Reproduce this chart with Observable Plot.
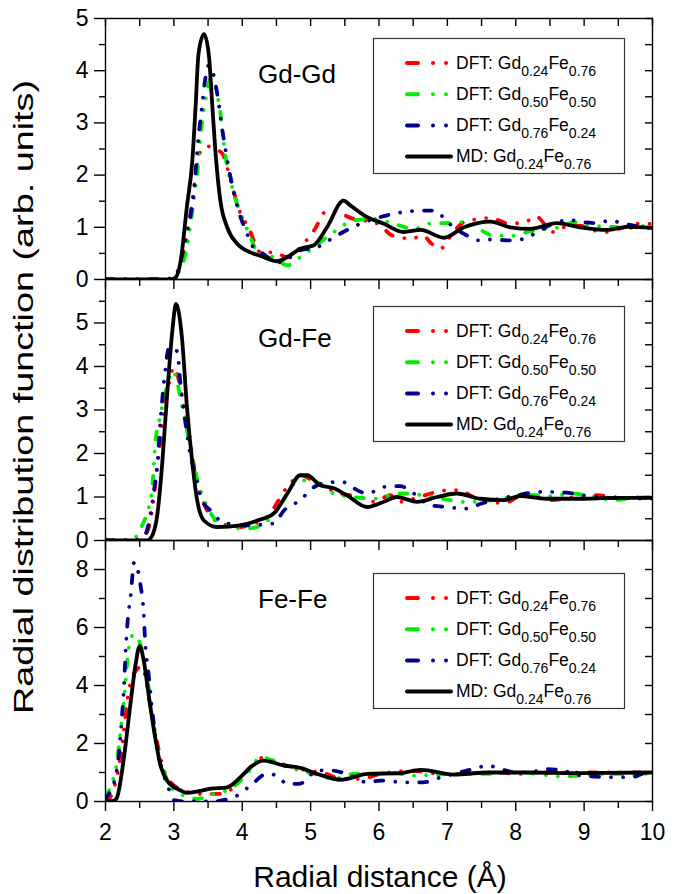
<!DOCTYPE html>
<html><head><meta charset="utf-8">
<script src="https://cdn.jsdelivr.net/npm/d3@7"></script>
<script src="https://cdn.jsdelivr.net/npm/@observablehq/plot@0.6"></script>
<style>
body{margin:0;background:#fff;}
#wrap{position:relative;width:682px;height:894px;overflow:hidden;background:#fff;font-family:"Liberation Sans",Arial,sans-serif;}
#wrap svg{position:absolute;left:0;overflow:visible;}
</style></head><body><div id="wrap"></div>
<script>
// ---------- data (x = radial distance in Å, y = g(r)) ----------
const xTicks = [2,3,4,5,6,7,8,9,10];
const xMinorTicks = [2.5,3.5,4.5,5.5,6.5,7.5,8.5,9.5];
const panelNames = ["Gd-Gd","Gd-Fe","Fe-Fe"];
const seriesNames = [["DFT: Gd","0.24","Fe","0.76"],["DFT: Gd","0.50","Fe","0.50"],["DFT: Gd","0.76","Fe","0.24"],["MD: Gd","0.24","Fe","0.76"]];

// Gd-Gd
const gdgd_dft024 = [[2.0,0],[2.8,0],[2.95,0.02],[3.10,0.3],[3.19,0.85],[3.27,1.5],[3.34,2.2],[3.41,2.5],[3.51,2.55],[3.60,2.5],[3.71,2.41],[3.83,1.9],[3.95,1.35],[4.10,0.97],[4.27,0.52],[4.46,0.52],[4.66,0.43],[4.85,0.62],[5.05,0.94],[5.24,1.32],[5.44,1.26],[5.63,1.16],[5.83,1.12],[6.02,1.04],[6.18,0.85],[6.31,0.81],[6.46,0.78],[6.65,0.84],[6.75,0.71],[6.90,0.59],[7.02,0.78],[7.24,1.10],[7.46,1.16],[7.63,1.18],[7.90,1.07],[8.14,1.10],[8.29,1.21],[8.55,0.91],[8.70,1.0],[8.94,1.03],[9.14,0.94],[9.33,0.91],[9.53,0.98],[9.87,1.08],[10.0,1.05]];
const gdgd_dft050 = [[2.0,0],[2.8,0],[2.95,0.02],[3.10,0.2],[3.19,0.62],[3.27,1.32],[3.34,2.02],[3.41,2.98],[3.47,3.5],[3.54,3.85],[3.60,3.7],[3.66,3.37],[3.75,2.41],[3.88,1.64],[4.00,1.19],[4.12,0.81],[4.27,0.45],[4.36,0.49],[4.50,0.38],[4.66,0.27],[4.85,0.43],[5.05,0.62],[5.34,0.91],[5.63,1.13],[5.92,1.16],[6.21,1.07],[6.51,0.97],[6.73,1.07],[6.95,1.08],[7.29,1.10],[7.46,0.97],[7.68,0.84],[7.99,0.84],[8.17,0.91],[8.46,0.97],[8.68,1.01],[8.85,1.10],[9.04,1.03],[9.43,1.01],[9.63,0.98],[9.92,1.03],[10.0,1.02]];
const gdgd_dft076 = [[2.0,0],[2.8,0],[2.95,0.02],[3.02,0.05],[3.10,0.36],[3.19,0.88],[3.29,1.65],[3.36,2.73],[3.41,3.3],[3.46,3.85],[3.51,4.1],[3.57,3.97],[3.63,3.59],[3.71,2.85],[3.80,2.15],[3.93,1.39],[4.07,0.88],[4.16,0.62],[4.27,0.52],[4.56,0.33],[4.85,0.56],[5.10,0.62],[5.34,0.81],[5.73,1.07],[6.12,1.23],[6.34,1.29],[6.65,1.32],[6.82,1.32],[7.00,1.10],[7.29,0.84],[7.46,0.75],[7.68,0.77],[7.87,0.75],[8.13,0.78],[8.28,0.88],[8.55,1.07],[8.79,1.14],[8.97,1.10],[9.19,1.08],[9.38,1.13],[9.50,1.10],[9.72,1.03],[10.0,0.98]];
const gdgd_md = [[2.0,0],[2.95,0],[3.02,0.03],[3.10,0.36],[3.19,1.39],[3.27,2.28],[3.32,3.37],[3.36,4.32],[3.44,4.70],[3.51,4.32],[3.56,3.37],[3.61,2.41],[3.68,1.51],[3.78,1.00],[3.93,0.68],[4.12,0.52],[4.27,0.45],[4.51,0.35],[4.66,0.43],[4.85,0.59],[5.04,0.65],[5.24,1.0],[5.48,1.51],[5.58,1.42],[5.78,1.23],[6.07,1.07],[6.36,0.91],[6.61,0.95],[6.95,0.80],[7.24,1.0],[7.63,1.11],[7.92,1.0],[8.21,0.97],[8.60,1.08],[8.94,1.0],[9.33,0.95],[9.63,1.01],[10.0,0.99]];

// Gd-Fe
const gdfe_dft024 = [[2.0,0],[2.45,0],[2.61,0.2],[2.68,0.69],[2.78,2.0],[2.86,3.0],[2.93,3.63],[3.00,3.98],[3.07,3.7],[3.15,3.0],[3.22,2.47],[3.32,1.47],[3.44,0.85],[3.58,0.5],[3.75,0.36],[3.97,0.31],[4.15,0.38],[4.36,0.54],[4.66,1.23],[4.85,1.50],[5.10,1.31],[5.44,1.08],[5.73,1.0],[5.92,0.89],[6.17,1.04],[6.31,0.89],[6.55,0.98],[6.80,1.10],[7.04,1.16],[7.14,1.16],[7.48,0.93],[7.82,0.86],[8.12,1.04],[8.51,0.93],[8.90,1.0],[9.19,1.04],[9.43,1.0],[9.72,0.98],[10.0,1.0]];
const gdfe_dft050 = [[2.0,0],[2.40,0.02],[2.51,0.27],[2.60,0.6],[2.68,1.16],[2.73,2.26],[2.80,2.85],[2.86,3.3],[2.93,3.70],[2.98,3.9],[3.04,3.7],[3.10,3.24],[3.24,2.16],[3.36,1.3],[3.49,0.77],[3.63,0.45],[4.02,0.27],[4.22,0.31],[4.51,0.69],[4.80,1.35],[5.0,1.39],[5.34,1.08],[5.63,1.0],[5.92,0.96],[6.17,1.04],[6.34,1.08],[6.65,1.04],[7.04,0.93],[7.29,0.88],[7.48,0.90],[7.77,0.95],[8.07,1.04],[8.31,1.04],[8.55,1.02],[8.82,1.08],[9.04,1.04],[9.43,0.93],[9.82,1.0],[10.0,1.0]];
const gdfe_dft076 = [[2.0,0],[2.40,0],[2.56,0.08],[2.66,0.62],[2.71,1.16],[2.76,1.78],[2.80,2.7],[2.83,3.24],[2.88,3.98],[2.92,4.4],[2.98,4.45],[3.05,4.33],[3.10,3.55],[3.17,2.70],[3.22,2.16],[3.32,1.47],[3.41,0.93],[3.56,0.66],[3.71,0.42],[4.02,0.35],[4.46,0.39],[4.61,0.69],[4.85,0.93],[5.05,1.23],[5.29,1.34],[5.48,1.34],[5.63,1.20],[5.83,1.08],[6.07,1.23],[6.31,1.25],[6.51,1.08],[6.75,0.81],[7.00,0.77],[7.26,0.73],[7.50,0.85],[8.01,1.04],[8.24,1.10],[8.43,1.12],[8.73,1.10],[8.99,1.04],[9.38,0.98],[9.68,0.98],[9.92,0.95],[10.0,0.97]];
const gdfe_md = [[2.0,0],[2.61,0],[2.68,0.1],[2.76,0.62],[2.83,1.78],[2.90,3.32],[2.98,4.86],[3.03,5.44],[3.12,4.63],[3.19,3.09],[3.27,1.78],[3.34,0.93],[3.44,0.46],[3.63,0.31],[3.97,0.35],[4.22,0.46],[4.46,0.62],[4.66,1.08],[4.85,1.50],[4.95,1.50],[5.14,1.27],[5.34,1.20],[5.53,1.04],[5.83,0.77],[6.07,0.89],[6.26,1.0],[6.56,0.89],[6.85,1.0],[7.14,1.08],[7.48,0.96],[7.82,0.93],[8.06,1.02],[8.45,0.96],[8.94,0.96],[9.43,0.98],[10.0,0.98]];

// Fe-Fe
const fefe_dft024 = [[2.0,0],[2.07,0.15],[2.22,1.52],[2.34,3.81],[2.44,4.5],[2.53,4.65],[2.66,3.24],[2.76,1.98],[2.90,0.83],[3.14,0.38],[3.39,0.26],[3.68,0.26],[3.88,0.49],[4.12,1.18],[4.31,1.52],[4.51,1.35],[4.85,1.12],[5.24,0.95],[5.44,0.78],[5.73,0.78],[6.02,0.95],[6.51,1.06],[6.90,0.95],[7.24,0.95],[7.63,1.0],[8.12,0.95],[8.45,1.0],[8.94,1.0],[9.43,1.0],[10.0,1.0]];
const fefe_dft050 = [[2.0,0.15],[2.07,0.5],[2.17,1.41],[2.22,2.44],[2.27,3.47],[2.34,5.3],[2.41,5.76],[2.51,5.42],[2.61,4.27],[2.66,3.47],[2.73,2.21],[2.85,1.07],[3.00,0.38],[3.14,0.21],[3.34,0.09],[3.58,0.26],[3.83,0.44],[4.07,0.95],[4.27,1.52],[4.46,1.41],[4.66,1.18],[4.85,1.07],[5.05,0.95],[5.34,0.78],[5.63,0.95],[5.92,0.95],[6.21,1.0],[6.46,0.89],[7.14,0.95],[7.63,0.95],[8.07,1.0],[8.70,0.86],[8.94,0.9],[9.43,0.95],[10.0,0.95]];
const fefe_dft076 = [[2.0,0.05],[2.02,0.15],[2.12,0.61],[2.19,1.52],[2.24,2.90],[2.27,3.93],[2.29,4.96],[2.32,6.11],[2.37,7.14],[2.42,8.25],[2.51,7.48],[2.56,6.45],[2.58,5.53],[2.63,4.39],[2.68,3.24],[2.73,2.21],[2.80,1.30],[2.90,0.61],[3.00,0.05],[3.19,0.0],[3.54,0.0],[3.88,0.15],[4.12,0.55],[4.36,0.95],[4.50,0.9],[4.66,0.6],[4.85,0.62],[5.10,1.07],[5.29,1.07],[5.53,0.95],[5.83,0.66],[6.02,0.72],[6.39,0.66],[6.65,0.66],[6.90,0.83],[7.38,1.12],[7.60,1.24],[7.75,1.14],[8.02,1.0],[8.26,1.03],[8.43,1.12],[8.68,1.07],[8.94,0.9],[9.14,0.86],[9.43,0.84],[9.70,0.84],[9.87,0.97],[10.0,1.0]];
const fefe_md = [[2.0,0],[2.12,0.02],[2.17,0.15],[2.27,1.52],[2.37,3.47],[2.44,4.73],[2.50,5.36],[2.56,4.85],[2.63,3.70],[2.71,2.44],[2.80,1.30],[2.90,0.72],[3.10,0.38],[3.19,0.30],[3.35,0.35],[3.54,0.44],[3.78,0.49],[3.97,0.83],[4.12,1.18],[4.31,1.41],[4.61,1.24],[4.85,1.16],[5.10,0.95],[5.44,0.75],[5.83,0.95],[6.31,0.98],[6.61,1.09],[7.09,0.93],[7.60,1.0],[8.21,1.0],[8.94,0.98],[10.0,1.0]];

// y-axis ticks per panel
const gdgd_yMajor = [0,1,2,3,4,5], gdgd_yMinor = [0.5,1.5,2.5,3.5,4.5];
const gdfe_yMajor = [0,1,2,3,4,5], gdfe_yMinor = [0.5,1.5,2.5,3.5,4.5,5.5];
const fefe_yMajor = [0,2,4,6,8], fefe_yMinor = [1,3,5,7];

// ---------- styles ----------
const FONT = '"Liberation Sans", Arial, sans-serif';
const seriesColors = ["#ff0000", "#00ee00", "#00008b", "#000000"];
const DASH = "8,12,0.01,12,0.01,12";
const W = 682, ML = 105, MR = 30, PH = 261;

function panel(series, yDomain, yMajor, yMinor, opts) {
  const marks = [];
  series.forEach((s, i) => {
    marks.push(Plot.line(s, {
      x: d => d[0], y: d => d[1], stroke: seriesColors[i], strokeWidth: 3.8,
      strokeDasharray: i < 3 ? DASH : null, strokeLinecap: "round", strokeLinejoin: "round",
      curve: "monotone-x", clip: true
    }));
  });
  marks.push(Plot.frame({stroke: "black", strokeWidth: 1.4}));
  marks.push(Plot.axisY(yMajor, {anchor: "left", tickSize: 11, tickPadding: 6, fontSize: 23, strokeWidth: 1.4, label: null, tickFormat: d => String(d)}));
  marks.push(Plot.axisY(yMinor, {anchor: "left", tickSize: 6, strokeWidth: 1.4, fill: "none", label: null}));
  marks.push(Plot.axisY(yMajor.concat(yMinor), {anchor: "right", tickSize: -8, strokeWidth: 1.4, fill: "none", label: null}));
  marks.push(Plot.axisX(xTicks, {anchor: "bottom", tickSize: 10, tickPadding: 12, fontSize: 23, strokeWidth: 1.4, label: null, fill: opts.xLabels ? "currentColor" : "none"}));
  marks.push(Plot.axisX(xMinorTicks, {anchor: "bottom", tickSize: 7, strokeWidth: 1.4, fill: "none", label: null}));
  if (opts.topTicks) marks.push(Plot.axisX(xTicks.concat(xMinorTicks), {anchor: "top", tickSize: -7, strokeWidth: 1.4, fill: "none", label: null}));
  const p = Plot.plot({
    width: W, height: opts.mt + PH + opts.mb,
    marginLeft: ML, marginRight: MR, marginTop: opts.mt, marginBottom: opts.mb,
    x: {domain: [2, 10]}, y: {domain: yDomain},
    style: {fontFamily: FONT, background: "transparent", overflow: "visible", color: "black"},
    marks
  });
  p.style.top = opts.top + "px";
  return p;
}

const wrap = document.getElementById("wrap");
wrap.appendChild(panel([gdgd_dft024, gdgd_dft050, gdgd_dft076, gdgd_md], [0, 5], gdgd_yMajor, gdgd_yMinor, {mt: 18, mb: 12, top: 0, topTicks: true}));
wrap.appendChild(panel([gdfe_dft024, gdfe_dft050, gdfe_dft076, gdfe_md], [0, 6], gdfe_yMajor, gdfe_yMinor, {mt: 10, mb: 12, top: 269}));
wrap.appendChild(panel([fefe_dft024, fefe_dft050, fefe_dft076, fefe_md], [0, 9], fefe_yMajor, fefe_yMinor, {mt: 10, mb: 60, top: 530, xLabels: true}));

// ---------- overlay: panel names, legends, axis titles ----------
const ns = "http://www.w3.org/2000/svg";
const ov = document.createElementNS(ns, "svg");
ov.setAttribute("width", W); ov.setAttribute("height", 894);
ov.style.top = "0px"; ov.style.fontFamily = FONT;
let s = "";
const nameY = [83, 347, 608];
panelNames.forEach((n, i) => {
  s += `<text x="258" y="${nameY[i]}" font-size="26" fill="black">${n}</text>`;
});
const legendTop = [38, 306, 573];
legendTop.forEach(t => {
  s += `<rect x="373.5" y="${t + 0.5}" width="251" height="135" fill="white" stroke="#333" stroke-width="1.2"/>`;
  seriesNames.forEach((nm, j) => {
    const ly = t + 25 + j * 31.2;
    const dash = j < 3 ? `stroke-dasharray="11,15,0.01,13,0.01,60"` : "";
    s += `<line x1="407" x2="451" y1="${ly}" y2="${ly}" stroke="${seriesColors[j]}" stroke-width="4" stroke-linecap="round" ${dash}/>`;
    s += `<text x="456" y="${ly + 5.5}" font-size="17.5" fill="black">${nm[0]}<tspan font-size="14" dy="7">${nm[1]}</tspan><tspan dy="-7">${nm[2]}</tspan><tspan font-size="14" dy="7">${nm[3]}</tspan></text>`;
  });
});
s += `<text x="380" y="887" font-size="30" text-anchor="middle" fill="black">Radial distance (Å)</text>`;
s += `<text transform="translate(33,397) rotate(-90)" font-size="27" text-anchor="middle" textLength="634" lengthAdjust="spacingAndGlyphs" fill="black">Radial distribution function (arb. units)</text>`;
ov.innerHTML = s;
wrap.appendChild(ov);
</script>
</body></html>
